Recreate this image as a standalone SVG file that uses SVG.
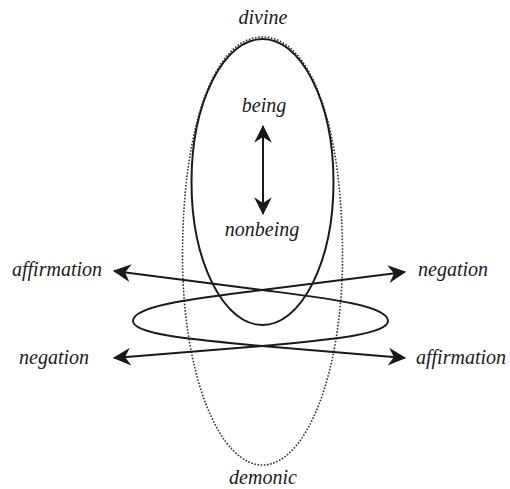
<svg xmlns="http://www.w3.org/2000/svg" width="510" height="489" viewBox="0 0 510 489">
<style>
text{font-family:"Liberation Serif","Times New Roman",serif;font-style:italic;font-size:20px;fill:#1a1a1a;text-anchor:middle}
.line{fill:none;stroke:#1a1a1a;stroke-width:2}
.dot{fill:none;stroke:#333;stroke-width:1.6;stroke-dasharray:1.6 1.6}
</style>
<defs>
<marker id="ah" markerUnits="userSpaceOnUse" markerWidth="20" markerHeight="20" viewBox="-16 -9 18 18" refX="0" refY="0" orient="auto-start-reverse">
<path d="M1,0 L-15,-8 L-10,0 L-15,8 Z" fill="#1a1a1a"/>
</marker>
</defs>
<rect width="510" height="489" fill="#fff"/>
<g id="demonic-ellipse"><path class="dot" d="M182.5,257 C182.5,125 214.5,37 262.5,37 C310.5,37 342.5,125 342.5,257 A80,208 0 0 1 182.5,257 Z"/></g>
<g id="divine-ellipse"><ellipse class="line" cx="262.5" cy="182" rx="71" ry="143"/></g>
<g id="connectors">
<line class="line" x1="263" y1="126" x2="263" y2="214" marker-start="url(#ah)" marker-end="url(#ah)"/>
<path class="line" d="M114,271 L262,290 C324,298 388,305 388,321 C388,335 324,340 262,346 L114,358" marker-start="url(#ah)" marker-end="url(#ah)"/>
<path class="line" d="M405,272 L262,290 C200,298 133,305 133,321 C133,335 200,340 262,346 L405,358" marker-start="url(#ah)" marker-end="url(#ah)"/>
</g>
<g id="divine"><text x="263" y="24">divine</text></g>
<g id="being"><text x="264" y="112">being</text></g>
<g id="nonbeing"><text x="262" y="236">nonbeing</text></g>
<g id="affirmation-left"><text x="57" y="276">affirmation</text></g>
<g id="negation-right"><text x="453" y="276">negation</text></g>
<g id="negation-left"><text x="54" y="364">negation</text></g>
<g id="affirmation-right"><text x="461" y="364">affirmation</text></g>
<g id="demonic"><text x="263" y="484">demonic</text></g>
</svg>
